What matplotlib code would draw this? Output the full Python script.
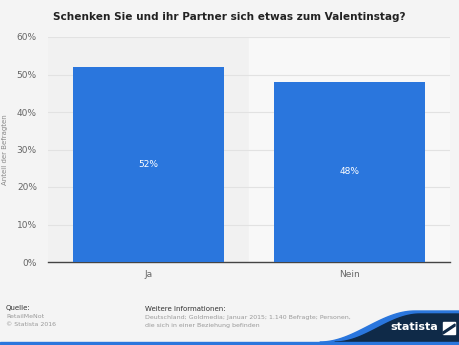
import numpy as np
import matplotlib.pyplot as plt
from matplotlib.patches import Polygon, Rectangle

# data
categories = ['Ja', 'Nein']
shares = [52, 48]
bar_labels = ['52%', '48%']
yticks = [0, 10, 20, 30, 40, 50, 60]

W, H = 460, 345
fig = plt.figure(figsize=(W / 100, H / 100), dpi=100)
fig.patch.set_facecolor('#f4f4f4')

ax = fig.add_axes([48 / W, 1 - 262 / H, 402 / W, 225 / H])
ax.set_facecolor('#f1f1f1')
x = np.arange(len(categories))
# lighter band behind every second category
ax.axvspan(0.5, 1.5, color='#f8f8f8', zorder=0)

ax.bar(x, shares, width=0.75, color='#2a76dd', zorder=3)
for xi, v, lab in zip(x, shares, bar_labels):
    ax.text(xi, v / 2, lab, ha='center', va='center', color='white', fontsize=6.5, zorder=4)

ax.set_xlim(-0.5, 1.5)
ax.set_ylim(0, 60)
ax.set_yticks(yticks)
ax.set_yticklabels([f'{t}%' for t in yticks], fontsize=6.5, color='#666666')
ax.set_xticks(x)
ax.set_xticklabels(categories, fontsize=6.5, color='#666666')
ax.tick_params(length=0, pad=8)
ax.tick_params(axis='x', pad=6)
ax.grid(axis='y', color='#e2e2e2', linewidth=0.8, zorder=1)
for s in ['top', 'right', 'left']:
    ax.spines[s].set_visible(False)
ax.spines['bottom'].set_color('#444444')
ax.spines['bottom'].set_linewidth(1.0)
ax.set_ylabel('Anteil der Befragten', fontsize=5, color='#888888', labelpad=6)

fig.text(229 / W, 1 - 17 / H, 'Schenken Sie und ihr Partner sich etwas zum Valentinstag?',
         ha='center', va='center', fontsize=7.6, fontweight='bold', color='#222222')

# footer
fig.text(6 / W, 1 - 308 / H, 'Quelle:', fontsize=5, color='#333333', va='center')
fig.text(6 / W, 1 - 316 / H, 'RetailMeNot', fontsize=4.5, color='#999999', va='center')
fig.text(6 / W, 1 - 324 / H, '© Statista 2016', fontsize=4.5, color='#999999', va='center')
fig.text(145 / W, 1 - 309 / H, 'Weitere Informationen:', fontsize=5, color='#333333', va='center')
fig.text(145 / W, 1 - 318 / H, 'Deutschland; Goldmedia; Januar 2015; 1.140 Befragte; Personen,',
         fontsize=4.5, color='#999999', va='center')
fig.text(145 / W, 1 - 326 / H, 'die sich in einer Beziehung befinden', fontsize=4.5, color='#999999', va='center')

# statista wave logo area
t = np.linspace(0, 1, 40)
def wave_pts(x0, x1, top):
    xs = x0 + (x1 - x0) * t
    ys = 3 + (top - 3) * (1 - np.cos(np.pi * t)) / 2
    return list(zip(xs / W, ys / H)) + [(1, top / H), (1, 0), (x0 / W, 0)]

fig.patches.append(Polygon(wave_pts(320, 415, 34), closed=True, transform=fig.transFigure,
                           color='#2a76dd', zorder=5))
fig.patches.append(Polygon(wave_pts(335, 420, 31), closed=True, transform=fig.transFigure,
                           color='#0f2a48', zorder=6))
fig.patches.append(Rectangle((0, 0), 1, 3 / H, transform=fig.transFigure,
                             color='#2a76dd', zorder=7))
fig.text(438 / W, 1 - 327 / H, 'statista', fontsize=8, fontweight='bold', color='white',
         ha='right', va='center', zorder=8)
fig.patches.append(Rectangle((443 / W, 11 / H), 12 / W, 12 / H, transform=fig.transFigure,
                             color='white', zorder=8))
fig.patches.append(Polygon([(443 / W, 13 / H), (455 / W, 21 / H), (455 / W, 19 / H), (443 / W, 11 / H)],
                           closed=True, transform=fig.transFigure, color='#0f2a48', zorder=9))

fig.savefig('out.png', dpi=100, facecolor=fig.get_facecolor())
